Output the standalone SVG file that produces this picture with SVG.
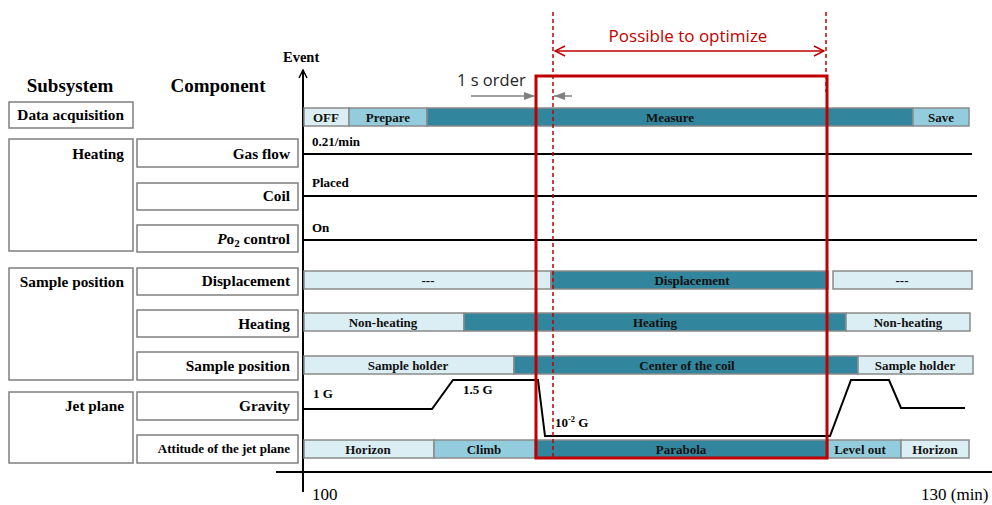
<svg xmlns="http://www.w3.org/2000/svg" width="992" height="505" viewBox="0 0 992 505">
<style>
.box{fill:#fff;stroke:#7f7f7f;stroke-width:1.5}
.lbl{font-family:"Liberation Serif",serif;font-weight:bold;font-size:15.3px;fill:#000;text-anchor:end}
.hdr{font-family:"Liberation Serif",serif;font-weight:bold;font-size:19px;fill:#000;text-anchor:middle}
.bt{font-family:"Liberation Serif",serif;font-weight:bold;font-size:13px;fill:#111;text-anchor:middle}
.lt{font-family:"Liberation Serif",serif;font-weight:bold;font-size:13px;fill:#000}
.ax{font-family:"Liberation Serif",serif;font-size:17px;fill:#000}
.l1{fill:#dbeef4;stroke:#8a8a8a;stroke-width:1.5}
.l2{fill:#93cddd;stroke:#8a8a8a;stroke-width:1.5}
.l3{fill:#31859c;stroke:#8a8a8a;stroke-width:1.5}
.ln{stroke:#000;stroke-width:2;fill:none}
.red{stroke:#c00000;fill:none}
</style>
<defs>
<marker id="ah" markerWidth="10" markerHeight="10" refX="9" refY="5" orient="auto" markerUnits="userSpaceOnUse">
<path d="M1,1 L9,5 L1,9" fill="none" stroke="#000" stroke-width="1.5"/>
</marker>
<marker id="ra" markerWidth="12" markerHeight="12" refX="11" refY="6" orient="auto-start-reverse" markerUnits="userSpaceOnUse">
<path d="M1,1 L11,6 L1,11" fill="none" stroke="#c00000" stroke-width="1.5"/>
</marker>
<marker id="ga" markerWidth="12" markerHeight="10" refX="11" refY="5" orient="auto" markerUnits="userSpaceOnUse">
<path d="M0,1 L11,5 L0,9 Z" fill="#808080"/>
</marker>
</defs>

<text class="hdr" x="70" y="92">Subsystem</text>
<text class="hdr" x="218" y="92">Component</text>

<g id="sub-data"><rect class="box" x="9" y="102" width="124" height="26"/><text class="lbl" x="124" y="120">Data acquisition</text></g>
<g id="sub-heating"><rect class="box" x="9" y="139" width="124" height="112"/><text class="lbl" x="124" y="159">Heating</text></g>
<g id="sub-sample"><rect class="box" x="9" y="268" width="124" height="112"/><text class="lbl" x="124" y="287">Sample position</text></g>
<g id="sub-jet"><rect class="box" x="9" y="392" width="124" height="71"/><text class="lbl" x="124" y="411">Jet plane</text></g>

<g id="comp-gas"><rect class="box" x="137" y="139" width="161" height="28"/><text class="lbl" x="290" y="159">Gas flow</text></g>
<g id="comp-coil"><rect class="box" x="137" y="183" width="161" height="27"/><text class="lbl" x="290" y="201">Coil</text></g>
<g id="comp-po2"><rect class="box" x="137" y="225" width="161" height="27"/><text class="lbl" x="290" y="244"><tspan font-style="italic">P</tspan>o<tspan style="font-size:11px" dy="3">2</tspan><tspan dy="-3"> control</tspan></text></g>
<g id="comp-disp"><rect class="box" x="137" y="268" width="161" height="27"/><text class="lbl" x="290" y="286">Displacement</text></g>
<g id="comp-heat"><rect class="box" x="137" y="310" width="161" height="27"/><text class="lbl" x="290" y="329">Heating</text></g>
<g id="comp-spos"><rect class="box" x="137" y="352" width="161" height="28"/><text class="lbl" x="290" y="371">Sample position</text></g>
<g id="comp-grav"><rect class="box" x="137" y="392" width="161" height="28"/><text class="lbl" x="290" y="411">Gravity</text></g>
<g id="comp-att"><rect class="box" x="137" y="435" width="161" height="28"/><text class="lbl" x="290" y="453" style="font-size:13px">Attitude of the jet plane</text></g>

<g id="axes">
<line class="ln" x1="276" y1="472" x2="992" y2="472"/>
<line class="ln" x1="303" y1="492" x2="303" y2="70" marker-end="url(#ah)"/>
<text class="lt" x="283" y="62" style="font-size:14.5px">Event</text>
<text class="ax" x="312" y="500">100</text>
<text class="ax" x="921" y="500">130 (min)</text>
</g>

<g id="row-data">
<rect class="l1" x="304" y="108" width="45" height="18"/><text class="bt" x="326" y="121.5">OFF</text>
<rect class="l2" x="349" y="108" width="78" height="18"/><text class="bt" x="388" y="121.5">Prepare</text>
<rect class="l3" x="427" y="108" width="486" height="18"/><text class="bt" x="670" y="121.5">Measure</text>
<rect class="l2" x="913" y="108" width="56" height="18"/><text class="bt" x="941" y="121.5">Save</text>
</g>

<g id="row-gas"><line class="ln" x1="304" y1="154" x2="972" y2="154"/><text class="lt" x="312" y="146">0.21/min</text></g>
<g id="row-coil"><line class="ln" x1="304" y1="196" x2="977" y2="196"/><text class="lt" x="312" y="187">Placed</text></g>
<g id="row-po2"><line class="ln" x1="304" y1="240" x2="977" y2="240"/><text class="lt" x="312" y="232">On</text></g>

<g id="row-disp">
<rect class="l1" x="304" y="271" width="247" height="18"/><text class="bt" x="428" y="284.5">---</text>
<rect class="l3" x="551" y="271" width="277" height="18"/><text class="bt" x="692" y="284.5">Displacement</text>
<rect class="l1" x="833" y="271" width="139" height="18"/><text class="bt" x="902" y="284.5">---</text>
</g>
<g id="row-heat">
<rect class="l1" x="304" y="313" width="160" height="18"/><text class="bt" x="383" y="326.5">Non-heating</text>
<rect class="l3" x="464" y="313" width="382" height="18"/><text class="bt" x="655" y="326.5">Heating</text>
<rect class="l1" x="846" y="313" width="124" height="18"/><text class="bt" x="908" y="326.5">Non-heating</text>
</g>
<g id="row-spos">
<rect class="l1" x="304" y="356" width="210" height="18"/><text class="bt" x="408" y="369.5">Sample holder</text>
<rect class="l3" x="514" y="356" width="344" height="18"/><text class="bt" x="687" y="369.5">Center of the coil</text>
<rect class="l1" x="858" y="356" width="115" height="18"/><text class="bt" x="915" y="369.5">Sample holder</text>
</g>
<g id="row-grav">
<polyline class="ln" points="304,409 432,409 453,380 538,380 545,436 830,436 851,380 889,380 901,408 965,408"/>
<text class="lt" x="313" y="398">1 G</text>
<text class="lt" x="463" y="394">1.5 G</text>
<text class="lt" x="555" y="427">10<tspan style="font-size:8.5px" dy="-5">-2</tspan><tspan dy="5"> G</tspan></text>
</g>
<g id="row-att">
<rect class="l1" x="304" y="440" width="130" height="18"/><text class="bt" x="368" y="453.5">Horizon</text>
<rect class="l2" x="434" y="440" width="101" height="18"/><text class="bt" x="484" y="453.5">Climb</text>
<rect class="l3" x="535" y="440" width="293" height="18"/><text class="bt" x="681" y="453.5">Parabola</text>
<rect class="l2" x="828" y="440" width="73" height="18"/><text class="bt" x="860" y="453.5">Level out</text>
<rect class="l1" x="901" y="440" width="68" height="18"/><text class="bt" x="935" y="453.5">Horizon</text>
</g>

<g id="connectors">
<line class="red" x1="553" y1="12" x2="553" y2="460" stroke-width="1.5" stroke-dasharray="4,3"/>
<line class="red" x1="826" y1="12" x2="826" y2="92" stroke-width="1.5" stroke-dasharray="4,3"/>
<line class="red" x1="555" y1="51" x2="824" y2="51" stroke-width="1.5" marker-start="url(#ra)" marker-end="url(#ra)"/>
<text x="688" y="42" font-family="Open Sans,Liberation Sans,sans-serif" font-size="17" fill="#c00000" text-anchor="middle">Possible to optimize</text>
<rect class="red" x="536" y="76" width="291" height="382" stroke-width="3"/>
<text x="457" y="86" font-family="Open Sans,Liberation Sans,sans-serif" font-size="16.5" fill="#262626">1 s order</text>
<line x1="471" y1="96" x2="535" y2="96" stroke="#808080" stroke-width="1.5" marker-end="url(#ga)"/>
<line x1="572" y1="96" x2="554" y2="96" stroke="#808080" stroke-width="1.5" marker-end="url(#ga)"/>
</g>
</svg>
